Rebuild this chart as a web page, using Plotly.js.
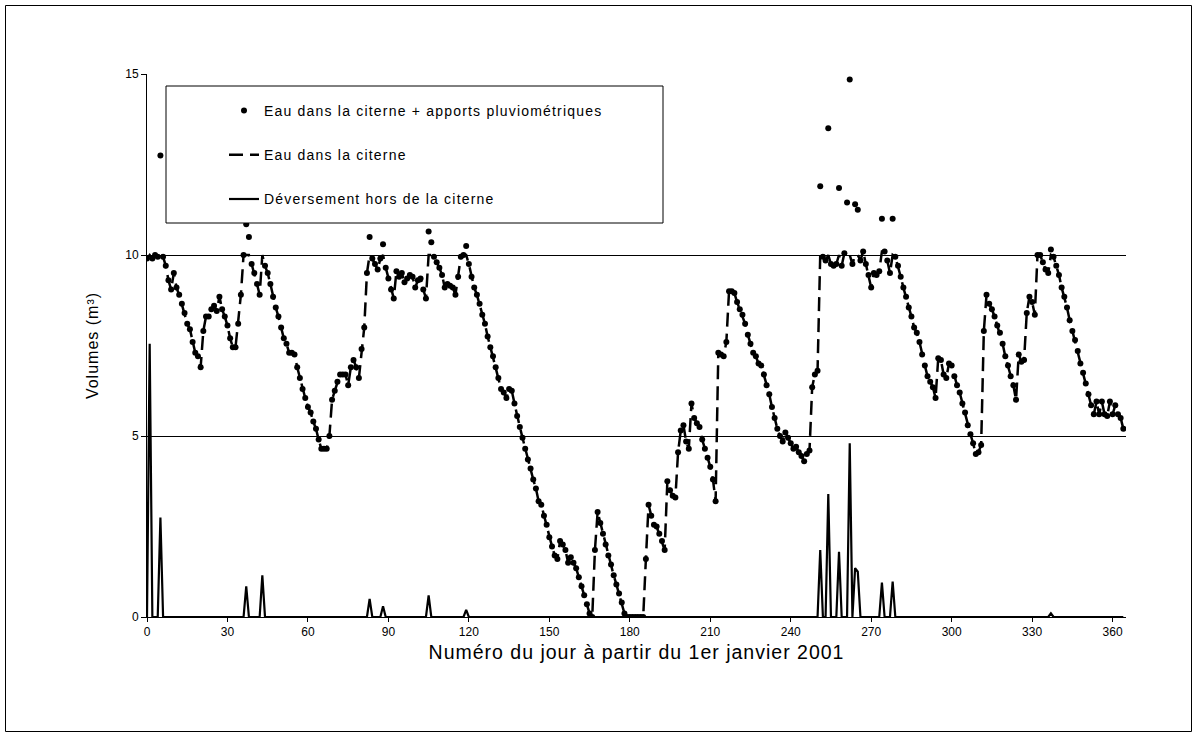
<!DOCTYPE html>
<html>
<head>
<meta charset="utf-8">
<script src="https://cdn.plot.ly/plotly-3.0.1.min.js"></script>
<style>
html,body{margin:0;padding:0;background:#fff;}
#chart{width:1198px;height:734px;}
.legendtext{letter-spacing:1.2px;}
.xtitle{letter-spacing:1px;}
.ytitle{letter-spacing:1px;}
</style>
</head>
<body>
<div id="chart"></div>
<script>
// Eau dans la citerne (m3), jour 0..364
const tank = [
9.9,10.0,9.9,10.0,9.95,10.0,9.95,9.7,9.3,9.05,
9.5,9.1,8.9,8.65,8.4,8.1,7.95,7.6,7.3,7.2,
6.9,7.9,8.3,8.3,8.5,8.6,8.45,8.85,8.5,8.3,
8.05,7.7,7.45,7.45,8.1,8.9,10.0,10.0,10.0,9.75,
9.5,9.2,8.9,10.0,9.7,9.5,9.2,8.85,8.55,8.3,
8.0,7.7,7.55,7.3,7.3,7.25,6.9,6.6,6.3,6.05,
5.8,5.65,5.4,5.2,4.9,4.65,4.65,4.65,5.0,6.0,
6.25,6.5,6.7,6.7,6.7,6.4,6.9,7.1,6.9,6.6,
7.4,8.0,9.5,10.0,9.9,9.75,9.6,9.9,10.0,9.65,
9.35,9.05,8.8,9.55,9.4,9.5,9.25,9.35,9.45,9.4,
9.1,9.3,9.35,9.05,8.8,10.0,10.0,9.95,9.8,9.65,
9.45,9.1,9.2,9.15,9.1,8.9,9.4,9.95,10.0,10.0,
9.75,9.4,9.1,8.9,8.65,8.35,8.1,7.75,7.45,7.2,
6.9,6.6,6.3,6.2,6.05,6.3,6.25,5.9,5.55,5.25,
4.95,4.65,4.35,4.1,3.8,3.55,3.2,3.1,2.8,2.55,
2.2,1.95,1.7,1.6,2.1,2.0,1.85,1.5,1.65,1.5,
1.35,1.1,0.85,0.6,0.35,0.1,0.0,1.85,2.9,2.6,
2.3,2.0,1.7,1.45,1.15,0.9,0.65,0.4,0.1,0.0,
0.0,0.0,0.0,0.0,0.0,0.0,1.6,3.1,2.8,2.55,
2.5,2.3,2.1,1.85,3.75,3.5,3.35,3.3,4.55,5.15,
5.3,4.85,4.65,5.9,5.5,5.35,5.25,4.9,4.65,4.4,
4.15,3.8,3.2,7.3,7.25,7.2,7.6,9.0,9.0,8.95,
8.7,8.5,8.35,8.1,7.8,7.55,7.3,7.2,7.0,6.95,
6.7,6.4,6.15,5.8,5.5,5.2,5.0,4.85,5.1,4.95,
4.8,4.65,4.7,4.55,4.45,4.3,4.5,4.6,6.35,6.7,
6.8,10.0,9.95,9.85,10.0,9.75,9.7,9.75,10.0,9.7,
10.05,10.0,10.0,9.75,10.0,10.0,9.85,10.1,9.75,9.45,
9.1,9.5,9.45,9.55,10.1,10.1,9.85,9.5,10.0,9.95,
9.7,9.4,9.1,8.85,8.55,8.3,8.0,7.85,7.6,7.25,
6.95,6.65,6.5,6.35,6.05,7.15,7.1,6.7,6.6,7.0,
6.95,6.65,6.4,6.2,5.9,5.65,5.3,5.05,4.8,4.5,
4.55,4.75,7.9,8.9,8.65,8.5,8.3,8.05,7.85,7.55,
7.2,6.95,6.65,6.4,6.0,7.25,7.05,7.1,8.4,8.85,
8.7,8.35,10.0,10.0,9.8,9.6,9.5,10.0,9.95,9.7,
9.45,9.1,8.85,8.55,8.2,7.9,7.65,7.35,7.0,6.75,
6.45,6.15,5.85,5.6,5.95,5.6,5.95,5.6,5.55,5.95,
5.6,5.85,5.6,5.5,5.2
];

// Eau dans la citerne + apports pluviométriques (m3), jour 0..364
const withRain = [
9.9,17.55,9.9,10.0,9.95,12.75,9.95,9.7,9.3,9.05,
9.5,9.1,8.9,8.65,8.4,8.1,7.95,7.6,7.3,7.2,
6.9,7.9,8.3,8.3,8.5,8.6,8.45,8.85,8.5,8.3,
8.05,7.7,7.45,7.45,8.1,8.9,10.0,10.85,10.5,9.75,
9.5,9.2,8.9,11.15,9.7,9.5,9.2,8.85,8.55,8.3,
8.0,7.7,7.55,7.3,7.3,7.25,6.9,6.6,6.3,6.05,
5.8,5.65,5.4,5.2,4.9,4.65,4.65,4.65,5.0,6.0,
6.25,6.5,6.7,6.7,6.7,6.4,6.9,7.1,6.9,6.6,
7.4,8.0,9.5,10.5,9.9,9.75,9.6,9.9,10.3,9.65,
9.35,9.05,8.8,9.55,9.4,9.5,9.25,9.35,9.45,9.4,
9.1,9.3,9.35,9.05,8.8,10.65,10.35,9.95,9.8,9.65,
9.45,9.1,9.2,9.15,9.1,8.9,9.4,9.95,10.0,10.25,
9.75,9.4,9.1,8.9,8.65,8.35,8.1,7.75,7.45,7.2,
6.9,6.6,6.3,6.2,6.05,6.3,6.25,5.9,5.55,5.25,
4.95,4.65,4.35,4.1,3.8,3.55,3.2,3.1,2.8,2.55,
2.2,1.95,1.7,1.6,2.1,2.0,1.85,1.5,1.65,1.5,
1.35,1.1,0.85,0.6,0.35,0.1,0.0,1.85,2.9,2.6,
2.3,2.0,1.7,1.45,1.15,0.9,0.65,0.4,0.1,0.0,
0.0,0.0,0.0,0.0,0.0,0.0,1.6,3.1,2.8,2.55,
2.5,2.3,2.1,1.85,3.75,3.5,3.35,3.3,4.55,5.15,
5.3,4.85,4.65,5.9,5.5,5.35,5.25,4.9,4.65,4.4,
4.15,3.8,3.2,7.3,7.25,7.2,7.6,9.0,9.0,8.95,
8.7,8.5,8.35,8.1,7.8,7.55,7.3,7.2,7.0,6.95,
6.7,6.4,6.15,5.8,5.5,5.2,5.0,4.85,5.1,4.95,
4.8,4.65,4.7,4.55,4.45,4.3,4.5,4.6,6.35,6.7,
6.8,11.9,9.95,9.85,13.5,9.75,9.7,9.75,11.85,9.7,
10.05,11.45,14.85,9.75,11.4,11.25,9.85,10.1,9.75,9.45,
9.1,9.5,9.45,9.55,11.0,10.1,9.85,9.5,11.0,9.95,
9.7,9.4,9.1,8.85,8.55,8.3,8.0,7.85,7.6,7.25,
6.95,6.65,6.5,6.35,6.05,7.15,7.1,6.7,6.6,7.0,
6.95,6.65,6.4,6.2,5.9,5.65,5.3,5.05,4.8,4.5,
4.55,4.75,7.9,8.9,8.65,8.5,8.3,8.05,7.85,7.55,
7.2,6.95,6.65,6.4,6.0,7.25,7.05,7.1,8.4,8.85,
8.7,8.35,10.0,10.0,9.8,9.6,9.5,10.15,9.95,9.7,
9.45,9.1,8.85,8.55,8.2,7.9,7.65,7.35,7.0,6.75,
6.45,6.15,5.85,5.6,5.95,5.6,5.95,5.6,5.55,5.95,
5.6,5.85,5.6,5.5,5.2
];

// Déversement hors de la citerne (m3), jour 0..364
const overflow = [
0,7.55,0,0,0,2.75,0,0,0,0,
0,0,0,0,0,0,0,0,0,0,
0,0,0,0,0,0,0,0,0,0,
0,0,0,0,0,0,0,0.85,0,0,
0,0,0,1.15,0,0,0,0,0,0,
0,0,0,0,0,0,0,0,0,0,
0,0,0,0,0,0,0,0,0,0,
0,0,0,0,0,0,0,0,0,0,
0,0,0,0.5,0,0,0,0,0.3,0,
0,0,0,0,0,0,0,0,0,0,
0,0,0,0,0,0.6,0,0,0,0,
0,0,0,0,0,0,0,0,0,0.2,
0,0,0,0,0,0,0,0,0,0,
0,0,0,0,0,0,0,0,0,0,
0,0,0,0,0,0,0,0,0,0,
0,0,0,0,0,0,0,0,0,0,
0,0,0,0,0,0,0,0,0,0,
0,0,0,0,0,0,0,0,0,0,
0,0,0,0,0,0,0,0,0,0,
0,0,0,0,0,0,0,0,0,0,
0,0,0,0,0,0,0,0,0,0,
0,0,0,0,0,0,0,0,0,0,
0,0,0,0,0,0,0,0,0,0,
0,0,0,0,0,0,0,0,0,0,
0,0,0,0,0,0,0,0,0,0,
0,1.85,0,0,3.4,0,0,0,1.8,0,
0,0,4.8,0,1.35,1.25,0,0,0,0,
0,0,0,0,0.95,0,0,0,0.98,0,
0,0,0,0,0,0,0,0,0,0,
0,0,0,0,0,0,0,0,0,0,
0,0,0,0,0,0,0,0,0,0,
0,0,0,0,0,0,0,0,0,0,
0,0,0,0,0,0,0,0,0,0,
0,0,0,0,0,0,0,0.1,0,0,
0,0,0,0,0,0,0,0,0,0,
0,0,0,0,0,0,0,0,0,0,
0,0,0,0,0
];

const days = tank.map((_, i) => i);
const seriesNames = [
  'Eau dans la citerne + apports pluviométriques',
  'Eau dans la citerne',
  'Déversement hors de la citerne'
];
const xTitle = 'Numéro du jour à partir du 1er janvier 2001';
const yTitle = 'Volumes (m³)';
const yTicks = [0, 5, 10, 15];

const W = 1198, H = 734;
const M = {l: 147, r: 72, t: 74, b: 117};
const pw = W - M.l - M.r, ph = H - M.t - M.b;
const px = v => (v - M.l) / pw;
const py = v => (H - M.b - v) / ph;

const traces = [
  {x: days, y: withRain, type: 'scatter', mode: 'markers', name: seriesNames[0],
   marker: {color: '#000', size: 6}, legendgroup: 'a'},
  {x: days, y: tank, type: 'scatter', mode: 'lines', name: seriesNames[1],
   line: {color: '#000', width: 2.5, dash: '14px,7px'}, legendgroup: 'b'},
  {x: days, y: overflow, type: 'scatter', mode: 'lines', name: seriesNames[2],
   line: {color: '#000', width: 2.2}, legendgroup: 'c'}
];

const layout = {
  width: W, height: H,
  margin: M,
  paper_bgcolor: '#fff', plot_bgcolor: '#fff',
  font: {family: '"Liberation Sans", Arial, sans-serif', color: '#000', size: 12},
  showlegend: true,
  legend: {
    x: px(224), y: py(95), xanchor: 'left', yanchor: 'top',
    bgcolor: 'rgba(0,0,0,0)', borderwidth: 0,
    font: {size: 14, color: '#000'}, tracegroupgap: 23, traceorder: 'grouped'
  },
  xaxis: {
    range: [0, 365], tick0: 0, dtick: 30, ticks: 'outside', ticklen: 4,
    tickcolor: '#000', showline: true, linecolor: '#000', linewidth: 1,
    showgrid: false, zeroline: false, tickfont: {size: 12},
    title: {text: xTitle, font: {size: 19.5}, standoff: 6}
  },
  yaxis: {
    range: [0, 15], tickvals: yTicks, ticks: 'outside', ticklen: 5,
    tickcolor: '#000', showline: true, linecolor: '#000', linewidth: 1,
    showgrid: true, gridcolor: '#000', gridwidth: 1, zeroline: false,
    tickfont: {size: 12},
    title: {text: yTitle, font: {size: 16}, standoff: 22}
  },
  shapes: [
    {type: 'rect', xref: 'paper', yref: 'paper', x0: px(5.5), x1: px(1191.5),
     y0: py(731.5), y1: py(5.5), line: {color: '#000', width: 1}, layer: 'below'},
    {type: 'rect', xref: 'paper', yref: 'paper', x0: px(166), x1: px(663),
     y0: py(223), y1: py(86), line: {color: '#000', width: 1},
     fillcolor: '#fff', layer: 'above'}
  ]
};

Plotly.newPlot('chart', traces, layout, {displayModeBar: false, staticPlot: true});
</script>
</body>
</html>
